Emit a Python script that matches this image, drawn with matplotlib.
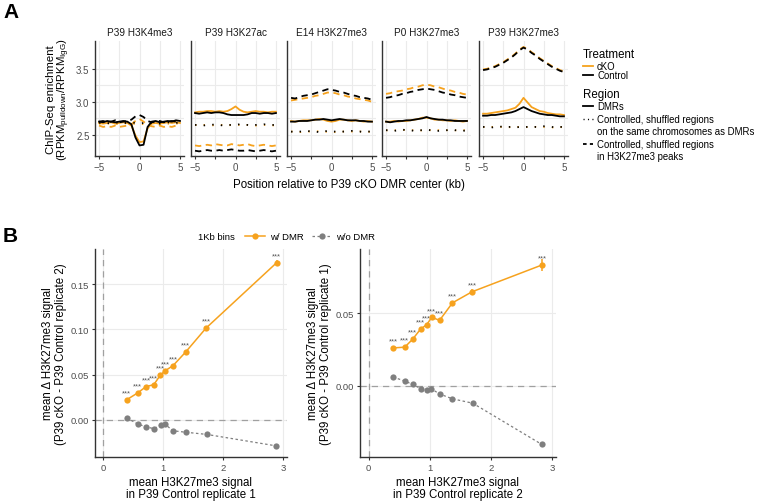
import matplotlib
matplotlib.use("Agg")
import matplotlib.pyplot as plt
from matplotlib.lines import Line2D

plt.rcParams['font.family'] = ['Liberation Sans', 'DejaVu Sans']

ORANGE = "#F6A21E"
GREY_PT = "#7F7F7F"
AXIS_COL = "#333333"
TICK_TXT = "#4D4D4D"
GRID_COL = "#EBEBEB"

# ---- panel A: profiles around DMR center (kb) ----
BINS = [-5.0, -4.5, -4.0, -3.5, -3.0, -2.5, -2.0, -1.5, -1.0, -0.5, 0.0,
        0.5, 1.0, 1.5, 2.0, 2.5, 3.0, 3.5, 4.0, 4.5, 5.0]
FACETS = ["P39 H3K4me3", "P39 H3K27ac", "E14 H3K27me3", "P0 H3K27me3", "P39 H3K27me3"]

K4_CTL_DMR = [2.70, 2.69, 2.71, 2.70, 2.69, 2.70, 2.71, 2.70, 2.66, 2.46, 2.34, 2.35, 2.62, 2.70, 2.71, 2.69, 2.70, 2.71, 2.70, 2.72, 2.71]
K4_CKO_DMR = [2.68, 2.67, 2.68, 2.69, 2.67, 2.68, 2.69, 2.68, 2.64, 2.49, 2.39, 2.40, 2.60, 2.67, 2.68, 2.67, 2.68, 2.69, 2.68, 2.69, 2.68]
K4_CTL_SHUF = [2.68, 2.69, 2.68, 2.67, 2.68, 2.69, 2.68, 2.68, 2.69, 2.68, 2.67, 2.68, 2.69, 2.68, 2.68, 2.67, 2.68, 2.69, 2.68, 2.68, 2.69]
K4_CKO_SHUF = [2.67, 2.66, 2.67, 2.67, 2.66, 2.67, 2.68, 2.67, 2.66, 2.67, 2.67, 2.66, 2.67, 2.68, 2.67, 2.66, 2.67, 2.67, 2.66, 2.67, 2.67]
K4_CTL_PEAK = [2.70, 2.71, 2.69, 2.70, 2.72, 2.69, 2.70, 2.71, 2.73, 2.78, 2.80, 2.77, 2.71, 2.69, 2.70, 2.71, 2.69, 2.70, 2.71, 2.70, 2.71]
K4_CKO_PEAK = [2.64, 2.62, 2.63, 2.62, 2.64, 2.62, 2.63, 2.64, 2.66, 2.71, 2.74, 2.70, 2.65, 2.63, 2.62, 2.64, 2.62, 2.63, 2.62, 2.64, 2.63]

AC_CTL_DMR = [2.83, 2.82, 2.83, 2.84, 2.83, 2.84, 2.84, 2.83, 2.81, 2.80, 2.80, 2.80, 2.80, 2.81, 2.83, 2.83, 2.82, 2.83, 2.83, 2.82, 2.83]
AC_CKO_DMR = [2.84, 2.85, 2.85, 2.86, 2.86, 2.85, 2.86, 2.85, 2.86, 2.89, 2.93, 2.88, 2.85, 2.84, 2.85, 2.86, 2.85, 2.85, 2.84, 2.85, 2.85]
AC_CTL_SHUF = [2.65, 2.65, 2.64, 2.65, 2.65, 2.66, 2.65, 2.64, 2.65, 2.65, 2.65, 2.66, 2.65, 2.65, 2.64, 2.65, 2.65, 2.66, 2.65, 2.65, 2.65]
AC_CKO_SHUF = [2.65, 2.64, 2.65, 2.65, 2.64, 2.65, 2.65, 2.65, 2.64, 2.65, 2.65, 2.65, 2.64, 2.65, 2.65, 2.64, 2.65, 2.65, 2.65, 2.64, 2.65]
AC_CTL_PEAK = [2.26, 2.25, 2.26, 2.27, 2.26, 2.26, 2.27, 2.26, 2.27, 2.28, 2.27, 2.26, 2.26, 2.27, 2.26, 2.25, 2.26, 2.27, 2.26, 2.25, 2.26]
AC_CKO_PEAK = [2.34, 2.33, 2.34, 2.35, 2.34, 2.36, 2.35, 2.34, 2.34, 2.36, 2.35, 2.34, 2.35, 2.36, 2.34, 2.33, 2.34, 2.35, 2.34, 2.33, 2.34]

E14_CTL_DMR = [2.70, 2.70, 2.71, 2.71, 2.71, 2.72, 2.73, 2.73, 2.74, 2.73, 2.72, 2.73, 2.74, 2.73, 2.72, 2.72, 2.72, 2.71, 2.71, 2.70, 2.70]
E14_CKO_DMR = [2.71, 2.70, 2.71, 2.72, 2.72, 2.72, 2.73, 2.74, 2.73, 2.71, 2.70, 2.71, 2.73, 2.73, 2.72, 2.71, 2.72, 2.71, 2.70, 2.71, 2.70]
E14_CTL_SHUF = [2.55, 2.54, 2.55, 2.55, 2.56, 2.55, 2.55, 2.54, 2.55, 2.56, 2.55, 2.55, 2.54, 2.55, 2.55, 2.56, 2.55, 2.55, 2.54, 2.55, 2.55]
E14_CKO_SHUF = [2.55, 2.55, 2.54, 2.55, 2.55, 2.55, 2.56, 2.55, 2.54, 2.55, 2.55, 2.54, 2.55, 2.55, 2.56, 2.55, 2.54, 2.55, 2.55, 2.55, 2.54]
E14_CTL_PEAK = [3.06, 3.05, 3.07, 3.09, 3.10, 3.11, 3.13, 3.15, 3.17, 3.19, 3.18, 3.17, 3.15, 3.14, 3.12, 3.10, 3.09, 3.07, 3.06, 3.05, 3.03]
E14_CKO_PEAK = [3.02, 3.03, 3.04, 3.05, 3.06, 3.07, 3.09, 3.10, 3.12, 3.14, 3.14, 3.13, 3.11, 3.10, 3.08, 3.07, 3.05, 3.04, 3.03, 3.02, 3.00]

P0_CTL_DMR = [2.70, 2.69, 2.70, 2.71, 2.71, 2.72, 2.72, 2.73, 2.74, 2.75, 2.77, 2.75, 2.74, 2.73, 2.73, 2.72, 2.72, 2.71, 2.71, 2.71, 2.71]
P0_CKO_DMR = [2.70, 2.70, 2.71, 2.70, 2.71, 2.71, 2.72, 2.73, 2.74, 2.76, 2.76, 2.75, 2.73, 2.73, 2.72, 2.72, 2.71, 2.72, 2.71, 2.70, 2.71]
P0_CTL_SHUF = [2.57, 2.57, 2.56, 2.57, 2.58, 2.57, 2.57, 2.56, 2.57, 2.57, 2.58, 2.57, 2.57, 2.56, 2.57, 2.57, 2.58, 2.57, 2.57, 2.56, 2.57]
P0_CKO_SHUF = [2.57, 2.56, 2.57, 2.57, 2.57, 2.58, 2.57, 2.57, 2.56, 2.57, 2.57, 2.57, 2.58, 2.57, 2.56, 2.57, 2.57, 2.57, 2.56, 2.57, 2.57]
P0_CTL_PEAK = [3.06, 3.07, 3.09, 3.10, 3.12, 3.13, 3.15, 3.16, 3.18, 3.19, 3.20, 3.19, 3.18, 3.16, 3.14, 3.13, 3.11, 3.10, 3.08, 3.07, 3.06]
P0_CKO_PEAK = [3.12, 3.13, 3.15, 3.16, 3.17, 3.19, 3.20, 3.22, 3.23, 3.25, 3.26, 3.25, 3.23, 3.22, 3.20, 3.18, 3.17, 3.15, 3.14, 3.12, 3.11]

P39_CTL_DMR = [2.79, 2.79, 2.80, 2.80, 2.81, 2.82, 2.83, 2.84, 2.86, 2.89, 2.92, 2.89, 2.86, 2.84, 2.82, 2.81, 2.80, 2.80, 2.79, 2.78, 2.78]
P39_CKO_DMR = [2.82, 2.82, 2.83, 2.84, 2.85, 2.86, 2.87, 2.89, 2.91, 2.97, 3.06, 2.99, 2.92, 2.89, 2.86, 2.85, 2.83, 2.82, 2.81, 2.81, 2.80]
P39_CTL_SHUF = [2.62, 2.62, 2.61, 2.62, 2.62, 2.63, 2.62, 2.62, 2.61, 2.62, 2.62, 2.62, 2.61, 2.62, 2.62, 2.63, 2.62, 2.62, 2.61, 2.62, 2.62]
P39_CKO_SHUF = [2.62, 2.61, 2.62, 2.62, 2.62, 2.62, 2.61, 2.62, 2.62, 2.62, 2.61, 2.62, 2.62, 2.62, 2.61, 2.62, 2.62, 2.61, 2.62, 2.62, 2.61]
P39_CTL_PEAK = [3.48, 3.49, 3.51, 3.53, 3.56, 3.59, 3.63, 3.67, 3.72, 3.78, 3.82, 3.79, 3.74, 3.70, 3.65, 3.61, 3.57, 3.53, 3.50, 3.47, 3.45]
P39_CKO_PEAK = [3.49, 3.50, 3.52, 3.54, 3.57, 3.60, 3.64, 3.68, 3.73, 3.79, 3.83, 3.80, 3.75, 3.71, 3.66, 3.62, 3.58, 3.54, 3.51, 3.48, 3.46]

# ---- panel B: 1 kb bins ----
B1_X_DMR = [0.39, 0.57, 0.71, 0.84, 0.95, 1.03, 1.16, 1.37, 1.71, 2.89]
B1_Y_DMR = [0.0224, 0.0298, 0.0368, 0.0390, 0.0496, 0.0544, 0.0600, 0.0750, 0.1015, 0.1740]
B1_SE_DMR = [0.0010, 0.0010, 0.0010, 0.0010, 0.0010, 0.0010, 0.0010, 0.0012, 0.0015, 0.0030]
B1_X_NODMR = [0.39, 0.57, 0.71, 0.84, 0.96, 1.02, 1.16, 1.37, 1.72, 2.88]
B1_Y_NODMR = [0.0022, -0.0044, -0.0077, -0.0096, -0.0055, -0.0044, -0.0120, -0.0136, -0.0160, -0.0287]

B2_X_DMR = [0.40, 0.59, 0.72, 0.85, 0.95, 1.03, 1.16, 1.37, 1.69, 2.83]
B2_Y_DMR = [0.0260, 0.0265, 0.0320, 0.0390, 0.0420, 0.0470, 0.0450, 0.0570, 0.0646, 0.0830]
B2_SE_DMR = [0.0010, 0.0010, 0.0012, 0.0012, 0.0012, 0.0013, 0.0012, 0.0015, 0.0020, 0.0040]
B2_X_NODMR = [0.40, 0.59, 0.72, 0.85, 0.96, 1.02, 1.16, 1.37, 1.70, 2.83]
B2_Y_NODMR = [0.0060, 0.0032, 0.0009, -0.0020, -0.0030, -0.0020, -0.0057, -0.0090, -0.0120, -0.0404]

SIG_LABEL = "***"

W, H = 761, 502
fig = plt.figure(figsize=(W / 100, H / 100), dpi=100)


def px_axes(x0, y0, x1, y1):
    return fig.add_axes([x0 / W, 1 - y1 / H, (x1 - x0) / W, (y1 - y0) / H])


def gg_style(ax):
    for s in ("top", "right"):
        ax.spines[s].set_visible(False)
    for s in ("left", "bottom"):
        ax.spines[s].set_color(AXIS_COL)
        ax.spines[s].set_linewidth(1.0)
    ax.set_axisbelow(True)
    ax.grid(True, which="both", color=GRID_COL, lw=0.8)
    ax.tick_params(which="both", colors=AXIS_COL, labelcolor=TICK_TXT,
                   length=2.5, width=0.8, labelsize=7, pad=1.5)


def fig_line(x0, x1, y, **kw):
    fig.add_artist(Line2D([x0 / W, x1 / W], [1 - y / H, 1 - y / H],
                          transform=fig.transFigure, **kw))


def fig_dot(x, y, color):
    fig.add_artist(Line2D([x / W], [1 - y / H], transform=fig.transFigure,
                          color=color, marker="o", ms=4.5, mec="none", lw=0))


DASH = (0, (3.5, 2.5))
DOT = (0, (0.8, 4))

facet_data = [
    (K4_CKO_DMR, K4_CTL_DMR, K4_CKO_SHUF, K4_CTL_SHUF, K4_CKO_PEAK, K4_CTL_PEAK),
    (AC_CKO_DMR, AC_CTL_DMR, AC_CKO_SHUF, AC_CTL_SHUF, AC_CKO_PEAK, AC_CTL_PEAK),
    (E14_CKO_DMR, E14_CTL_DMR, E14_CKO_SHUF, E14_CTL_SHUF, E14_CKO_PEAK, E14_CTL_PEAK),
    (P0_CKO_DMR, P0_CTL_DMR, P0_CKO_SHUF, P0_CTL_SHUF, P0_CKO_PEAK, P0_CTL_PEAK),
    (P39_CKO_DMR, P39_CTL_DMR, P39_CKO_SHUF, P39_CTL_SHUF, P39_CKO_PEAK, P39_CTL_PEAK),
]

facet_lefts = [95, 191, 287, 382, 479]
for i, (title, series) in enumerate(zip(FACETS, facet_data)):
    x0 = facet_lefts[i]
    ax = px_axes(x0, 42, x0 + 89, 157)
    gg_style(ax)
    cko_dmr, ctl_dmr, cko_shuf, ctl_shuf, cko_peak, ctl_peak = series
    for ys, ls in ((cko_shuf, DOT), (cko_peak, DASH), (cko_dmr, "-")):
        ax.plot(BINS, ys, color=ORANGE, lw=1.3, ls=ls)
    for ys, ls in ((ctl_shuf, DOT), (ctl_peak, DASH), (ctl_dmr, "-")):
        ax.plot(BINS, ys, color="black", lw=1.3, ls=ls)
    ax.set_xlim(-5.5, 5.5)
    ax.set_ylim(2.18, 3.92)
    ax.set_xticks([-5, 0, 5])
    ax.set_xticks([-2.5, 2.5], minor=True)
    ax.set_xticklabels(["\u22125", "0", "5"])
    ax.set_yticks([2.5, 3.0, 3.5])
    ax.set_yticks([2.75, 3.25], minor=True)
    ax.tick_params(axis="y", which="minor", length=0)
    if i == 0:
        ax.set_yticklabels(["2.5", "3.0", "3.5"])
        ax.set_ylabel("ChIP-Seq enrichment\n"
                      r"($\mathregular{RPKM_{pulldown}/RPKM_{IgG}}$)",
                      fontsize=8.2, color="black", labelpad=3, linespacing=1.0)
    else:
        ax.set_yticklabels([])
        ax.tick_params(axis="y", length=0)
    ax.set_title(title, fontsize=7.2, pad=4, color="#1A1A1A")

fig.text(349 / W, 1 - 185 / H, "Position relative to P39 cKO DMR center (kb)",
         ha="center", va="center", fontsize=8.3)

# legend A, drawn by hand
LX0, LX1, TX = 583, 593, 597
ENTRY_FS = 6.9
fig.text(LX0 / W, 1 - 55 / H, "Treatment", fontsize=8.3, va="center")
fig_line(LX0, LX1, 67, color=ORANGE, lw=1.3)
fig.text(TX / W, 1 - 67 / H, "cKO", fontsize=ENTRY_FS, va="center")
fig_line(LX0, LX1, 76, color="black", lw=1.3)
fig.text(TX / W, 1 - 76 / H, "Control", fontsize=ENTRY_FS, va="center")
fig.text(LX0 / W, 1 - 95 / H, "Region", fontsize=8.3, va="center")
fig_line(LX0, LX1, 107, color="black", lw=1.3)
fig.text(TX / W, 1 - 107 / H, "DMRs", fontsize=ENTRY_FS, va="center")
fig_line(LX0, LX1, 120, color="black", lw=1.0, ls=(0, (0.8, 2.4)))
fig.text(TX / W, 1 - 120 / H, "Controlled, shuffled regions", fontsize=ENTRY_FS, va="center")
fig.text(TX / W, 1 - 132 / H, "on the same chromosomes as DMRs", fontsize=ENTRY_FS, va="center")
fig_line(LX0, LX1, 145, color="black", lw=1.3, ls=(0, (2.0, 1.8)))
fig.text(TX / W, 1 - 145 / H, "Controlled, shuffled regions", fontsize=ENTRY_FS, va="center")
fig.text(TX / W, 1 - 157 / H, "in H3K27me3 peaks", fontsize=ENTRY_FS, va="center")

fig.text(3 / W, 1 - 12 / H, "A", fontsize=15, fontweight="bold", va="center")
fig.text(3 / W, 1 - 236 / H, "B", fontsize=15, fontweight="bold", va="center")

# ---- panel B ----
b_panels = [
    (95, 287, (-0.041, 0.189), [0.00, 0.05, 0.10, 0.15],
     B1_X_DMR, B1_Y_DMR, B1_SE_DMR, B1_X_NODMR, B1_Y_NODMR, 2, 1),
    (360, 556, (-0.049, 0.094), [0.00, 0.05],
     B2_X_DMR, B2_Y_DMR, B2_SE_DMR, B2_X_NODMR, B2_Y_NODMR, 1, 2),
]
for (x0, x1, ylim, yt, xd, yd, sed, xn, yn, rep_y, rep_x) in b_panels:
    ax = px_axes(x0, 250, x1, 458)
    gg_style(ax)
    ax.grid(False, which="minor")
    ax.axhline(0, color="#A0A0A0", lw=0.9, ls=(0, (5, 4)), zorder=1)
    ax.axvline(0, color="#A0A0A0", lw=0.9, ls=(0, (5, 4)), zorder=1)
    ax.plot(xn, yn, color=GREY_PT, lw=0.9, ls=(0, (2, 2)), marker="o",
            ms=4.5, mec="none", zorder=3)
    ax.errorbar(xd, yd, yerr=sed, color=ORANGE, lw=1.1, marker="o", ms=4.5,
                mec="none", elinewidth=1.1, capsize=0, zorder=4)
    for xv, yv in zip(xd, yd):
        ax.annotate(SIG_LABEL, (xv, yv), xytext=(0, 2.5), textcoords="offset points",
                    ha="center", va="bottom", fontsize=5.6, color="#555555")
    ax.set_xlim(-0.14, 3.06)
    ax.set_ylim(*ylim)
    ax.set_xticks([0, 1, 2, 3])
    ax.set_yticks(yt)
    ax.set_yticklabels([f"{v:.2f}" for v in yt])
    ax.tick_params(labelsize=6.8)
    ax.set_ylabel("mean \u0394 H3K27me3 signal\n"
                  f"(P39 cKO - P39 Control replicate {rep_y})",
                  fontsize=8.3, labelpad=3, linespacing=1.05)
    ax.set_xlabel("mean H3K27me3 signal\n"
                  f"in P39 Control replicate {rep_x}",
                  fontsize=8.3, labelpad=3, linespacing=1.05)

# legend B
fig.text(198 / W, 1 - 237 / H, "1Kb bins", fontsize=6.8, va="center")
fig_line(245, 265, 237, color=ORANGE, lw=1.1)
fig_dot(255, 237, ORANGE)
fig.text(270 / W, 1 - 237 / H, "w/ DMR", fontsize=6.8, va="center")
fig_line(312, 332, 237, color=GREY_PT, lw=0.9, ls=(0, (2, 2)))
fig_dot(322, 237, GREY_PT)
fig.text(336 / W, 1 - 237 / H, "w/o DMR", fontsize=6.8, va="center")

fig.savefig("out.png", dpi=100)
